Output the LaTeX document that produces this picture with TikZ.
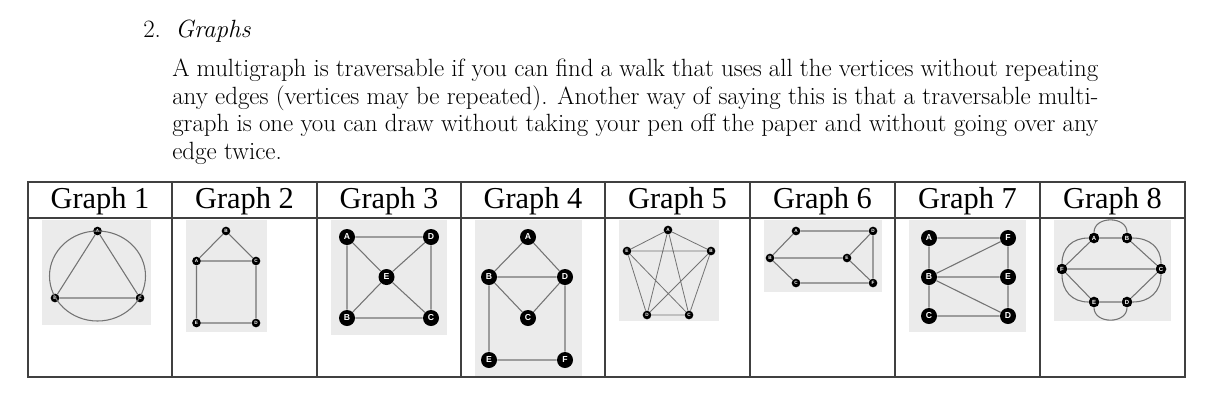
\documentclass[tikz,border=0pt]{standalone}
\usepackage{fontspec}
\newfontfamily\timesf{Liberation Serif}
\newfontfamily\vlab{Liberation Sans}
\begin{document}
\begin{tikzpicture}[x=0.75pt,y=-0.75pt,
  bg/.style={fill=black!8,draw=none},
  ed/.style={draw=black!55,line width=0.8pt},
  vs/.style={circle,fill=black,text=white,inner sep=0pt,minimum size=6.5pt,font=\vlab\bfseries\fontsize{3.5}{3.5}\selectfont},
  vm/.style={circle,fill=black,text=white,inner sep=0pt,minimum size=8pt,font=\vlab\bfseries\fontsize{4.5}{4.5}\selectfont},
  vl/.style={circle,fill=black,text=white,inner sep=0pt,minimum size=12pt,font=\vlab\bfseries\fontsize{6.5}{6.5}\selectfont},
  head/.style={font=\timesf\fontsize{22.8}{24}\selectfont},
  tl/.style={anchor=base west,inner sep=0pt,font=\fontsize{18.7}{22}\selectfont}]
\useasboundingbox (0,0) rectangle (1216,405);
% text
\node[tl] (num) at (143,37) {2.};
\node[tl] (ttl) at (175,37) {\itshape Graphs};
\node[tl] (l1) at (172,76) {\hbox to 694.5pt{A multigraph is traversable if you can find a walk that uses all the vertices without repeating}};
\node[tl] (l2) at (172,104) {\hbox to 694.5pt{any edges (vertices may be repeated). Another way of saying this is that a traversable multi-}};
\node[tl] (l3) at (172,131) {\hbox to 694.5pt{graph is one you can draw without taking your pen off the paper and without going over any}};
\node[tl] (l4) at (172,159) {edge twice.};
% backgrounds
\fill[bg] (42,220) rectangle (151,325);
\fill[bg] (186,220) rectangle (267,332);
\fill[bg] (331,220) rectangle (447,335);
\fill[bg] (475,220) rectangle (582,376);
\fill[bg] (619,220) rectangle (719,321);
\fill[bg] (764,220) rectangle (882,292);
\fill[bg] (909,220) rectangle (1026,332);
\fill[bg] (1054,220) rectangle (1171,321);
% table
\draw[line width=1.1pt,black!75] (28,182) rectangle (1185,377);
\draw[line width=1.1pt,black!75] (28,218) -- (1185,218);
\foreach \x in {172,317,461,605,750,895,1040} \draw[line width=1.1pt,black!75] (\x,182) -- (\x,377);
\foreach \i/\x in {1/100,2/244.5,3/389,4/533,5/677.5,6/822.5,7/967.5,8/1112.5}
  \node[head] (h\i) at (\x,201) {Graph \i};
% Graph 1
\node[vs] (1A) at (97.5,231) {A};
\node[vs] (1B) at (55,298) {B};
\node[vs] (1C) at (140,298) {C};
\draw[ed] (97.5,276) ellipse (48 and 45);
\draw[ed] (1A)--(1B) (1B)--(1C) (1C)--(1A);
% Graph 2
\node[vs] (2B) at (226,231) {B};
\node[vs] (2A) at (196.5,261) {A};
\node[vs] (2C) at (256,261) {C};
\node[vs] (2E) at (196.5,323) {E};
\node[vs] (2D) at (256,323) {D};
\draw[ed] (2B)--(2A) (2B)--(2C) (2A)--(2C) (2A)--(2E) (2C)--(2D) (2E)--(2D);
% Graph 3
\node[vl] (3A) at (347,237) {A};
\node[vl] (3D) at (431,237) {D};
\node[vl] (3E) at (386.5,277) {E};
\node[vl] (3B) at (347,318) {B};
\node[vl] (3C) at (431,318) {C};
\draw[ed] (3A)--(3D) (3A)--(3B) (3D)--(3C) (3B)--(3C) (3A)--(3E) (3E)--(3C) (3D)--(3E) (3E)--(3B);
% Graph 4
\node[vl] (4A) at (528,237) {A};
\node[vl] (4B) at (489,277) {B};
\node[vl] (4D) at (565,277) {D};
\node[vl] (4C) at (528,318) {C};
\node[vl] (4E) at (489,360) {E};
\node[vl] (4F) at (565,360) {F};
\draw[ed] (4A)--(4B) (4A)--(4D) (4B)--(4D) (4B)--(4C) (4D)--(4C) (4B)--(4E) (4D)--(4F) (4E)--(4F);
% Graph 5
\node[vs] (5A) at (668,230) {A};
\node[vs] (5E) at (627,251) {E};
\node[vs] (5B) at (711,251) {B};
\node[vs] (5D) at (647,315) {D};
\node[vs] (5C) at (689,315) {C};
\draw[ed,line width=0.6pt] (5A)--(5E) (5A)--(5B) (5A)--(5D) (5A)--(5C) (5E)--(5B) (5E)--(5D) (5E)--(5C) (5B)--(5D) (5B)--(5C) (5D)--(5C);
% Graph 6
\node[vs] (6A) at (796,231) {A};
\node[vs] (6D) at (873,231) {D};
\node[vs] (6B) at (770,258) {B};
\node[vs] (6E) at (847,258) {E};
\node[vs] (6C) at (796,283) {C};
\node[vs] (6F) at (873,283) {F};
\draw[ed] (6A)--(6D) (6A)--(6B) (6B)--(6E) (6B)--(6C) (6C)--(6F) (6D)--(6E) (6D)--(6F) (6E)--(6F);
% Graph 7
\node[vl] (7A) at (929,238) {A};
\node[vl] (7F) at (1008,238) {F};
\node[vl] (7B) at (929,277) {B};
\node[vl] (7E) at (1008,277) {E};
\node[vl] (7C) at (929,316) {C};
\node[vl] (7D) at (1008,316) {D};
\draw[ed] (7A)--(7F) (7A)--(7B) (7B)--(7C) (7C)--(7D) (7D)--(7E) (7E)--(7F) (7B)--(7F) (7B)--(7E) (7B)--(7D);
% Graph 8
\node[vm] (8A) at (1094,238) {A};
\node[vm] (8B) at (1127,238) {B};
\node[vm] (8F) at (1062,269) {F};
\node[vm] (8C) at (1161,269) {C};
\node[vm] (8E) at (1094,302) {E};
\node[vm] (8D) at (1127,302) {D};
\draw[ed] (8A)--(8B) (8A)--(8F) (8B)--(8C) (8F)--(8C) (8F)--(8E) (8C)--(8D) (8E)--(8D);
\draw[ed] (8A) to[out=90,in=90,looseness=1.3] (8B);
\draw[ed] (8B) to[out=0,in=90,looseness=1.1] (8C);
\draw[ed] (8C) to[out=-90,in=0,looseness=1.1] (8D);
\draw[ed] (8D) to[out=-90,in=-90,looseness=1.3] (8E);
\draw[ed] (8E) to[out=180,in=-90,looseness=1.1] (8F);
\draw[ed] (8F) to[out=90,in=180,looseness=1.1] (8A);
\end{tikzpicture}
\end{document}
